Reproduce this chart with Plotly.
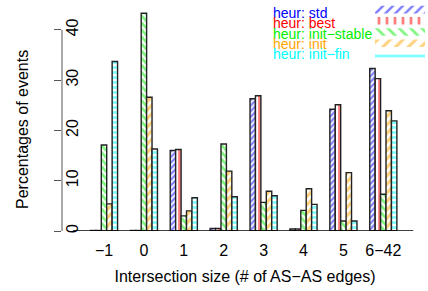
import plotly.graph_objects as go

categories = ["\u22121", "0", "1", "2", "3", "4", "5", "6\u221242"]
series_names = ["heur: std", "heur: best", "heur: init\u2212stable", "heur: init", "heur: init\u2212fin"]
std_vals = [0.1, 0.1, 16.0, 0.5, 26.3, 0.4, 24.2, 32.3]
best_vals = [0.1, 0.1, 16.2, 0.5, 26.9, 0.4, 25.1, 30.3]
init_stable_vals = [17.1, 43.3, 3.0, 17.3, 5.7, 4.1, 2.0, 7.3]
init_vals = [5.4, 26.6, 4.0, 11.9, 7.9, 8.4, 11.6, 23.9]
init_fin_vals = [33.7, 16.3, 6.6, 6.8, 7.0, 5.3, 2.0, 21.9]
y_ticks = [0, 10, 20, 30, 40]
y_title = "Percentages of events"
x_title = "Intersection size (# of AS\u2212AS edges)"

series_vals = [std_vals, best_vals, init_stable_vals, init_vals, init_fin_vals]
colors = ["#0000FF", "#FF0000", "#00EE00", "#FFA500", "#00FFFF"]
shapes_pat = ["/", "|", "\\", "/", "-"]
pat_sizes = [4, 5, 5, 6, 5]

W, H = 428, 291
L, R, T, B = 62, 0, 0, 60
ppu_y = 5.03
ppu_x = 39.9
plot_w = W - L - R
plot_h = H - T - B
x0_val = -(104 - L) / ppu_x
x1_val = x0_val + plot_w / ppu_x
y1_val = plot_h / ppu_y

fig = go.Figure()
for name, vals, col, sh, sz in zip(series_names, series_vals, colors, shapes_pat, pat_sizes):
    fig.add_trace(go.Bar(
        x=categories, y=vals, name=name,
        marker=dict(color="white",
                    line=dict(color="#222222", width=1.4),
                    pattern=dict(shape=sh, fgcolor=col, bgcolor="white", size=sz, solidity=0.55)),
        xaxis="x", yaxis="y", hoverinfo="skip", showlegend=False))

# invisible trace to activate the tick-mark overlay axis
fig.add_trace(go.Scatter(x=[categories[0]], y=[0], mode="markers", marker=dict(opacity=0),
                         xaxis="x", yaxis="y3", hoverinfo="skip", showlegend=False))

# legend swatches as pattern-filled bars on an inset axis
for name, col, sh, sz in zip(series_names, colors, shapes_pat, pat_sizes):
    fig.add_trace(go.Bar(
        x=[1], y=[name], orientation="h",
        marker=dict(color="white", line=dict(width=0),
                    pattern=dict(shape=sh, fgcolor=col, bgcolor="white", size=sz + 3, solidity=0.35)),
        xaxis="x2", yaxis="y2", hoverinfo="skip", showlegend=False))

font = "Liberation Sans, Arial, sans-serif"

def px_to_paper_x(px):
    return (px - L) / plot_w

def px_to_paper_y(py):
    return (H - B - py) / plot_h

annotations = []
legend_y = [13, 23.3, 33.6, 43.9, 54.2]
for name, col, ly in zip(series_names, colors, legend_y):
    annotations.append(dict(text=name, x=px_to_paper_x(272), y=px_to_paper_y(ly),
                            xref="paper", yref="paper", xanchor="left", yanchor="middle",
                            borderpad=0, showarrow=False,
                            font=dict(family=font, size=14, color=col)))
annotations.append(dict(text=y_title, x=px_to_paper_x(22), y=px_to_paper_y(130),
                        xref="paper", yref="paper", xanchor="center", yanchor="middle",
                        textangle=-90, showarrow=False, borderpad=0,
                        font=dict(family=font, size=16, color="black")))

fig.update_layout(
    width=W, height=H,
    margin=dict(l=L, r=R, t=T, b=B, pad=0, autoexpand=False),
    paper_bgcolor="white", plot_bgcolor="white",
    barmode="group", bargap=0.32, bargroupgap=0,
    font=dict(family=font, size=16, color="black"),
    xaxis=dict(range=[x0_val, x1_val], showgrid=False, zeroline=False, showline=False,
               automargin=False,
               ticks="", tickfont=dict(size=16), ticklabelstandoff=8,
               title=dict(text=x_title, font=dict(size=16), standoff=12)),
    yaxis=dict(range=[0, y1_val], showgrid=False, zeroline=False, showline=False,
               automargin=False, anchor="free", position=px_to_paper_x(69),
               tickvals=y_ticks, ticks="",
               tickangle=-90, tickfont=dict(size=16), ticklabelstandoff=-12),
    yaxis3=dict(range=[0, y1_val], overlaying="y", side="left", anchor="x", showgrid=False,
                zeroline=False, showline=False, automargin=False, showticklabels=False,
                tickvals=y_ticks, ticks="outside", ticklen=7, tickcolor="#555555", tickwidth=1),
    xaxis2=dict(domain=[px_to_paper_x(375), px_to_paper_x(425)], anchor="y2", range=[0, 1],
                visible=False, fixedrange=True, automargin=False),
    yaxis2=dict(domain=[px_to_paper_y(60), px_to_paper_y(4)], anchor="x2", autorange="reversed",
                visible=False, fixedrange=True, automargin=False),
    annotations=annotations,
    shapes=[
        dict(type="line", xref="paper", yref="y", x0=0, x1=0, y0=0, y1=40,
             line=dict(color="#555555", width=1)),
        dict(type="line", xref="x", yref="y", x0=-0.78, x1=7.75, y0=0, y1=0,
             line=dict(color="black", width=1.3)),
    ],
)
fig.write_html("out.html", config={"displayModeBar": False},
               post_script="document.body.style.margin='0';")
